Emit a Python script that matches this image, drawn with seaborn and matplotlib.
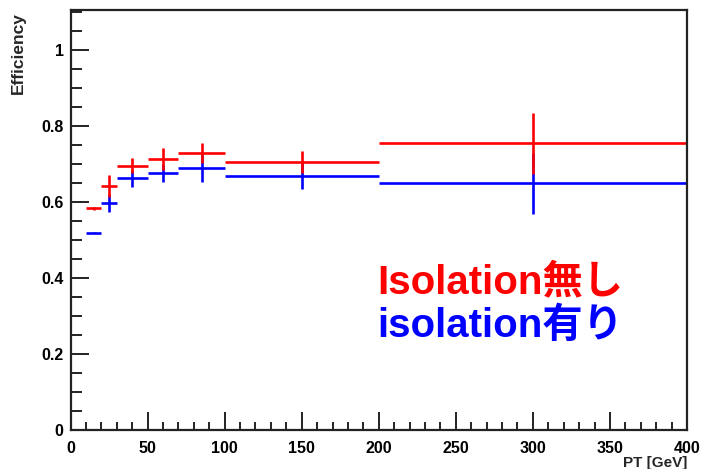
import matplotlib
matplotlib.use("Agg")
import matplotlib.pyplot as plt
from matplotlib.ticker import MultipleLocator, FuncFormatter
import seaborn as sns
import numpy as np

# ---- data ----
bin_lo = [10, 20, 30, 50, 70, 100, 200]
bin_hi = [20, 30, 50, 70, 100, 200, 400]
eff_noiso = [0.583, 0.642, 0.695, 0.713, 0.728, 0.706, 0.754]
err_noiso = [0.004, 0.029, 0.020, 0.028, 0.026, 0.029, 0.080]
eff_iso = [0.519, 0.597, 0.662, 0.676, 0.689, 0.668, 0.649]
err_iso = [0.002, 0.023, 0.022, 0.023, 0.036, 0.035, 0.081]
label_noiso = "Isolation無し"
label_iso = "isolation有り"
x_title = "PT [GeV]"
y_title = "Efficiency"

sns.set_theme(style="ticks")
plt.rcParams["font.family"] = ["Liberation Sans", "Noto Sans CJK JP"]
plt.rcParams["font.weight"] = "bold"

fig = plt.figure(figsize=(7.01, 4.69), dpi=100)
fig.patch.set_facecolor("white")
ax = fig.add_axes([70.5 / 701, (469 - 430) / 469, (687 - 70.5) / 701, 420 / 469])
ax.set_facecolor("white")

lo = np.array(bin_lo, dtype=float)
hi = np.array(bin_hi, dtype=float)
xc = (lo + hi) / 2
xe = (hi - lo) / 2

ax.errorbar(xc, eff_iso, xerr=xe, yerr=err_iso, fmt="none", ecolor="#0000ff",
            elinewidth=1.9, capsize=0)
ax.errorbar(xc, eff_noiso, xerr=xe, yerr=err_noiso, fmt="none", ecolor="#ff0000",
            elinewidth=1.9, capsize=0)

ax.set_xlim(0, 400)
ax.set_ylim(0, 1.105)
ax.xaxis.set_major_locator(MultipleLocator(50))
ax.xaxis.set_minor_locator(MultipleLocator(10))
ax.yaxis.set_major_locator(MultipleLocator(0.2))
ax.yaxis.set_minor_locator(MultipleLocator(0.05))
ax.yaxis.set_major_formatter(FuncFormatter(lambda v, p: "%g" % round(v, 3)))

for s in ax.spines.values():
    s.set_visible(True)
    s.set_color("#222222")
    s.set_linewidth(1.6)

ax.tick_params(axis="both", which="both", direction="in", colors="#222222",
               top=False, right=False, labelsize=11.5, width=1.4)
ax.tick_params(axis="both", which="major", length=13)
ax.tick_params(axis="y", which="minor", length=8)
ax.tick_params(axis="x", which="minor", length=6)
ax.tick_params(axis="y", which="major", pad=5)
ax.tick_params(axis="x", which="major", pad=8)
for t in ax.get_xticklabels() + ax.get_yticklabels():
    t.set_fontweight("bold")
    t.set_color("black")

ax.set_xlabel(x_title, loc="right", fontsize=11, fontweight="bold", labelpad=0)
ax.set_ylabel(y_title, loc="top", fontsize=12.5, fontweight="bold")
ax.yaxis.set_label_coords(-0.073, 0.995)

ax.text(0.497, 0.326, label_noiso, color="#ff0000", fontsize=29, fontweight="bold",
        transform=ax.transAxes, va="baseline", ha="left")
ax.text(0.497, 0.221, label_iso, color="#0000ff", fontsize=29, fontweight="bold",
        transform=ax.transAxes, va="baseline", ha="left")

fig.savefig("out.png", dpi=100)
